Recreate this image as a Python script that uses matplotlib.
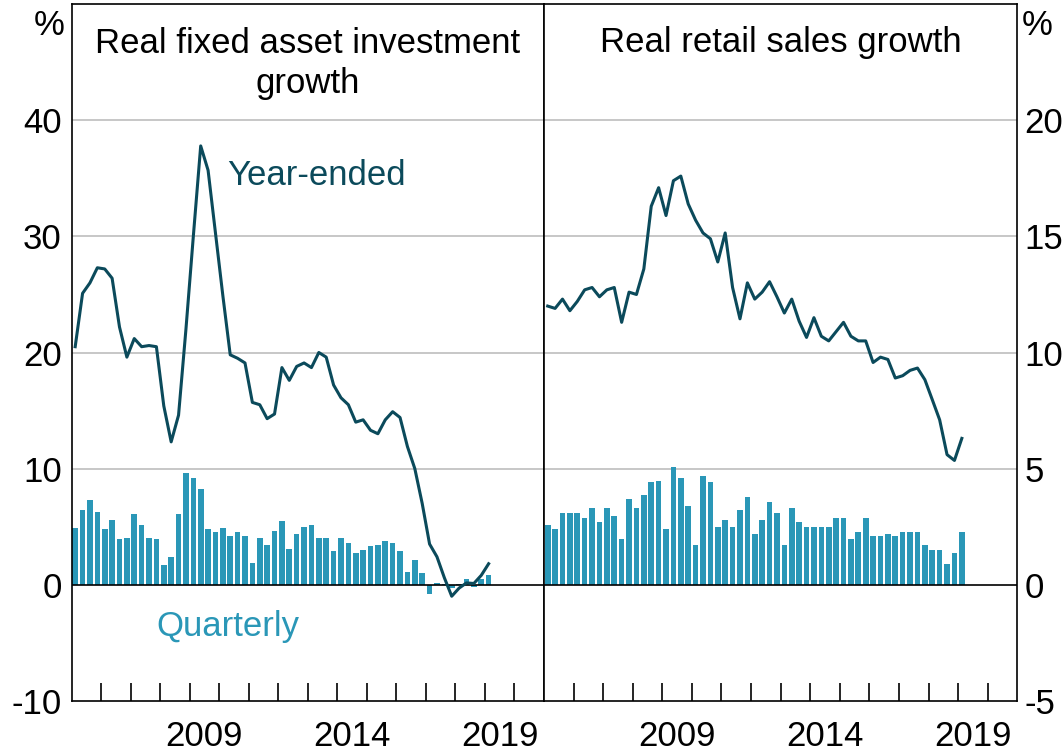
import matplotlib
matplotlib.use("Agg")
import matplotlib.pyplot as plt
import numpy as np
import pandas as pd

plt.rcParams['font.family'] = ['Liberation Sans', 'DejaVu Sans']

# ---- data ----
quarters = pd.period_range('2005Q1', '2019Q1', freq='Q')

fai_year_ended = [20.5, 25.1, 26.0, 27.3, 27.2, 26.4, 22.2, 19.6, 21.2, 20.5,
                  20.6, 20.5, 15.4, 12.3, 14.6, 22.0, 30.0, 37.8, 35.7, 30.3,
                  24.9, 19.8, 19.5, 19.1, 15.7, 15.5, 14.3, 14.7, 18.7, 17.6,
                  18.8, 19.1, 18.7, 20.0, 19.6, 17.2, 16.1, 15.5, 14.0, 14.2,
                  13.3, 13.0, 14.2, 14.9, 14.4, 11.9, 10.0, 7.0, 3.5, 2.4,
                  0.6, -1.0, -0.3, 0.15, 0.1, 0.8, 1.8]
fai_quarterly = [4.9, 6.4, 7.3, 6.3, 4.8, 5.6, 3.9, 4.0, 6.1, 5.1,
                 4.0, 3.9, 1.7, 2.4, 6.1, 9.65, 9.2, 8.2, 4.8, 4.5,
                 4.9, 4.2, 4.5, 4.2, 1.9, 4.0, 3.4, 4.6, 5.5, 3.1,
                 4.4, 5.0, 5.1, 4.0, 4.0, 2.9, 4.0, 3.6, 2.75, 3.0,
                 3.3, 3.4, 3.8, 3.6, 2.9, 1.1, 2.1, 1.0, -0.85, 0.1,
                 0.05, -0.25, 0.05, 0.45, -0.2, 0.45, 0.85]

retail_year_ended = [12.0, 11.9, 12.3, 11.8, 12.2, 12.7, 12.8, 12.4, 12.7, 12.8,
                     11.3, 12.6, 12.5, 13.6, 16.3, 17.1, 15.9, 17.4, 17.6, 16.4,
                     15.7, 15.15, 14.9, 13.9, 15.15, 12.8, 11.45, 13.0, 12.3, 12.6,
                     13.05, 12.4, 11.7, 12.3, 11.35, 10.65, 11.5, 10.7, 10.5, 10.9,
                     11.3, 10.7, 10.5, 10.5, 9.57, 9.8, 9.7, 8.9, 9.0, 9.23,
                     9.33, 8.83, 7.97, 7.1, 5.6, 5.35, 6.3]
retail_quarterly = [2.58, 2.41, 3.1, 3.1, 3.1, 2.89, 3.32, 2.71, 3.32, 2.97,
                    1.98, 3.71, 3.32, 3.88, 4.4, 4.48, 2.41, 5.08, 4.6, 3.4,
                    1.7, 4.7, 4.4, 2.5, 2.8, 2.5, 3.2, 3.79, 2.2, 2.8,
                    3.57, 3.1, 1.7, 3.32, 2.71, 2.5, 2.5, 2.5, 2.5, 2.89,
                    2.89, 1.98, 2.28, 2.89, 2.11, 2.11, 2.2, 2.11, 2.28, 2.28,
                    2.28, 1.7, 1.51, 1.51, 0.91, 1.38, 2.28]

left_ticks = [-10, 0, 10, 20, 30, 40]
right_ticks = [-5, 0, 5, 10, 15, 20]
year_labels = [2009, 2014, 2019]

# ---- style ----
LINE_C = '#0B4A5B'
BAR_C = '#2A97B7'
FS = 25

x = np.array([q.year + (q.quarter - 0.5) / 4 for q in quarters])

W, H = 1062, 755
fig = plt.figure(figsize=(W / 100, H / 100), dpi=100)
L, R, M = 71.5, 1017.3, 544.0
T, B = 4.3, 700.7
axl = fig.add_axes([L / W, (H - B) / H, (M - L) / W, (B - T) / H])
axr = fig.add_axes([M / W, (H - B) / H, (R - M) / W, (B - T) / H])


def style(ax, ylim, ticks, side):
    ax.set_xlim(2005, 2021)
    ax.set_ylim(*ylim)
    ax.set_yticks(ticks)
    ax.set_yticklabels([str(t) for t in ticks], fontsize=FS)
    for t in ticks[1:]:
        if t != 0:
            ax.axhline(t, color='#BDBDBD', lw=1.2, zorder=0)
    ax.axhline(0, color='black', lw=1.2, zorder=3)
    if side == 'right':
        ax.yaxis.tick_right()
        ax.tick_params(axis='y', length=0, pad=5)
    else:
        ax.tick_params(axis='y', length=0, pad=7)
    ax.set_xticks(np.arange(2006, 2021))
    ax.set_xticklabels([])
    ax.tick_params(axis='x', which='major', direction='in', length=13, width=1.2, color='black')
    ax.set_xticks([y + 0.5 for y in year_labels], minor=True)
    ax.set_xticklabels([str(y) for y in year_labels], minor=True, fontsize=FS)
    ax.tick_params(axis='x', which='minor', length=0, pad=14)
    for s in ax.spines.values():
        s.set_linewidth(1.2)
        s.set_color('black')


style(axl, (-10, 50), left_ticks, 'left')
style(axr, (-5, 25), right_ticks, 'right')

axl.bar(x, fai_quarterly, width=0.19, color=BAR_C, zorder=2)
axl.plot(x, fai_year_ended, color=LINE_C, lw=2.2, zorder=4)
axr.bar(x, retail_quarterly, width=0.19, color=BAR_C, zorder=2)
axr.plot(x, retail_year_ended, color=LINE_C, lw=2.2, zorder=4)


def fy(py):
    return 1 - py / H


fig.text((L + M) / 2 / W, fy(53), 'Real fixed asset investment', ha='center', va='baseline', fontsize=FS)
fig.text((L + M) / 2 / W, fy(93), 'growth', ha='center', va='baseline', fontsize=FS)
fig.text((M + R) / 2 / W, fy(52), 'Real retail sales growth', ha='center', va='baseline', fontsize=FS)

axl.text(2010.26, 34.45, 'Year-ended', color=LINE_C, fontsize=FS, ha='left', va='baseline')
axl.text(2007.86, -4.4, 'Quarterly', color=BAR_C, fontsize=FS, ha='left', va='baseline')

fig.text(49 / W, fy(35), '%', fontsize=FS, ha='center', va='baseline')
fig.text(1037 / W, fy(35), '%', fontsize=FS, ha='center', va='baseline')

fig.savefig('out.png', dpi=100)
